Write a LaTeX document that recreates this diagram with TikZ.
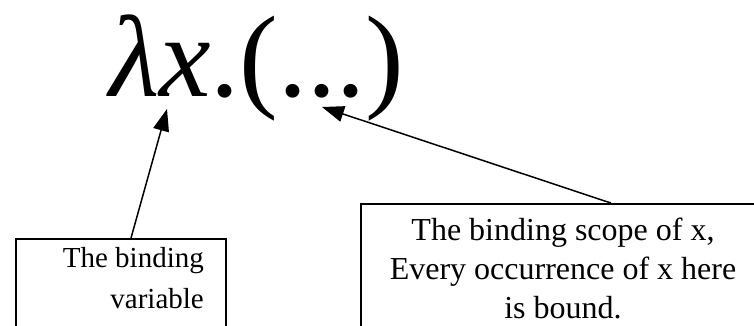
\documentclass[tikz,border=0pt]{standalone}
\usepackage{fontspec}
\setmainfont{Liberation Serif}
\usetikzlibrary{arrows.meta,calc}
\tikzset{
  boxshape/.style={draw=black, line width=1.7pt, rectangle, inner sep=0pt},
  label/.style={inner sep=0pt, font=\fontsize{29}{41}\selectfont},
  biglabel/.style={inner sep=0pt, font=\fontsize{32}{39}\selectfont},
  arr/.style={line width=1.5pt, -{Triangle[length=22pt,width=16pt]}}
}
\begin{document}
\begin{tikzpicture}[x=1pt,y=-1pt]
\useasboundingbox (0,0) rectangle (754,326);
\clip (0,0) rectangle (754,326);
\fill[white] (0,0) rectangle (754,326);
% title expression
\node[inner sep=0pt, anchor=base west, font=\fontsize{116}{116}\selectfont] (expr) at (109,97) {\textit{λx}.(...)};
% boxes
\node[boxshape, anchor=north west, minimum width=210pt, minimum height=140pt] (lbox) at (15,238) {};
\node[boxshape, anchor=north west, minimum width=440pt, minimum height=180pt] (rbox) at (360,203) {};
% texts
\node[label, anchor=north east, align=right] (ltext) at (204,247) {The binding\\variable};
\node[biglabel, anchor=north, align=center] (rtext) at (563,218) {The binding scope of x,\\Every occurrence of x here\\is bound.};
% arrow tips
\coordinate (lambdaTip) at (167,109);
\coordinate (scopeTip) at (322,107);
\draw[arr] ($(lbox.north west)!0.548!(lbox.north east)$) -- (lambdaTip);
\draw[arr] ($(rbox.north west)!0.568!(rbox.north east)$) -- (scopeTip);
\end{tikzpicture}
\end{document}
